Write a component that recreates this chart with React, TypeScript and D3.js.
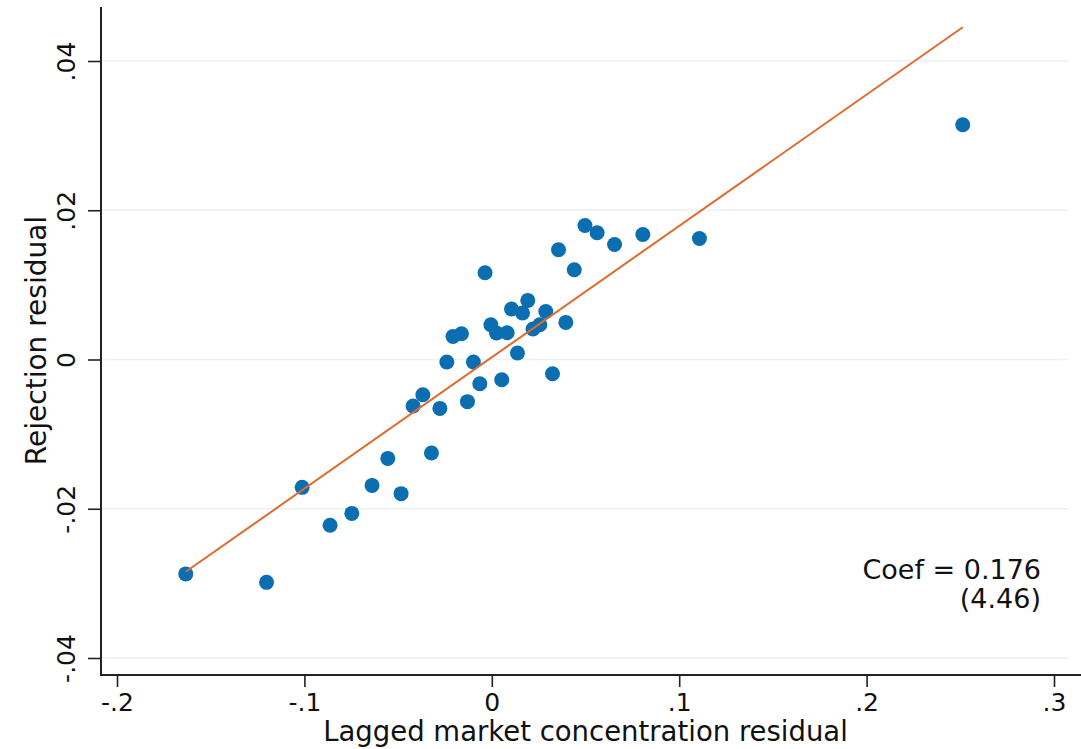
import React, { useEffect, useRef } from 'react';
import * as d3 from 'd3';

// residuals
const xResid = [
  -0.1633, -0.1202, -0.1012, -0.0863, -0.0747, -0.0639, -0.0555, -0.0484, -0.042, -0.0368,
  -0.0322, -0.0277, -0.024, -0.0207, -0.0162, -0.013, -0.0098, -0.0064, -0.0036, -0.0005,
  0.0025, 0.0053, 0.0082, 0.0105, 0.0137, 0.0164, 0.0192, 0.022, 0.0256, 0.0288,
  0.0324, 0.0356, 0.0395, 0.044, 0.0497, 0.0562, 0.0655, 0.0806, 0.1108, 0.2513,
];
const yResid = [
  -0.02873, -0.02986, -0.01713, -0.02222, -0.02062, -0.01687, -0.01325, -0.01798, -0.00623, -0.00472,
  -0.01253, -0.00655, -0.00033, 0.00309, 0.00346, -0.00565, -0.00033, -0.00324, 0.01163, 0.00466,
  0.00355, -0.00271, 0.00359, 0.00676, 0.00087, 0.00623, 0.00792, 0.00409, 0.00466, 0.00644,
  -0.0019, 0.01471, 0.00497, 0.01203, 0.01795, 0.01699, 0.01541, 0.01676, 0.01622, 0.03145,
];

const xTicks = [-0.2, -0.1, 0, 0.1, 0.2, 0.3];
const yTicks = [-0.04, -0.02, 0, 0.02, 0.04];

const coef = 0.176;
const intercept = 0.0003;
const tStat = '(4.46)';

const W = 1081;
const H = 749;

// stata-ish labels: ".04", "-.2", "0"
const stataFmt = (v: number) => {
  if (Math.abs(v) < 1e-9) return '0';
  return String(+v.toFixed(3)).replace(/^(-?)0\./, '$1.');
};

const App: React.FC = () => {
  const svgRef = useRef<SVGSVGElement | null>(null);

  useEffect(() => {
    if (!svgRef.current) return;
    const svg = d3.select(svgRef.current);
    svg.selectAll('*').remove();

    const left = 101, right = 1068, top = 7, bottom = 675;
    const x = d3.scaleLinear().domain([-0.2, 0.3]).range([117, 1054]);
    const y = d3.scaleLinear().domain([-0.04, 0.04]).range([658, 61]);
    const font = '"DejaVu Sans", sans-serif';

    svg.append('rect').attr('width', W).attr('height', H).attr('fill', '#fff');

    // gridlines
    svg.append('g')
      .selectAll('line')
      .data(yTicks)
      .join('line')
      .attr('x1', left)
      .attr('x2', right)
      .attr('y1', d => y(d))
      .attr('y2', d => y(d))
      .attr('stroke', '#eaf2f2')
      .attr('stroke-width', 1.5);

    // axes
    const yAxis = d3.axisLeft(y).tickValues(yTicks).tickSize(13).tickFormat(d => stataFmt(+d));
    const gy = svg.append('g').attr('transform', `translate(${left},0)`).call(yAxis);
    gy.select('.domain').remove();
    gy.selectAll('.tick line').attr('stroke', '#222').attr('stroke-width', 1.6);
    gy.selectAll('.tick text')
      .attr('font-family', font)
      .attr('font-size', 25)
      .attr('fill', '#111')
      .attr('x', 0)
      .attr('dy', null)
      .attr('text-anchor', 'middle')
      .attr('transform', 'translate(-26,0) rotate(-90)');

    const xAxis = d3.axisBottom(x).tickValues(xTicks).tickSize(12).tickFormat(d => stataFmt(+d));
    const gx = svg.append('g').attr('transform', `translate(0,${bottom})`).call(xAxis);
    gx.select('.domain').remove();
    gx.selectAll('.tick line').attr('stroke', '#222').attr('stroke-width', 1.6);
    gx.selectAll('.tick text')
      .attr('font-family', font)
      .attr('font-size', 25)
      .attr('fill', '#111')
      .attr('y', 36)
      .attr('dy', null);

    svg.append('line')
      .attr('x1', left).attr('x2', left).attr('y1', top).attr('y2', bottom + 1)
      .attr('stroke', '#222').attr('stroke-width', 2);
    svg.append('line')
      .attr('x1', left - 1).attr('x2', W).attr('y1', bottom).attr('y2', bottom)
      .attr('stroke', '#222').attr('stroke-width', 2);

    // titles
    svg.append('text')
      .attr('x', (left + right) / 2 + 1)
      .attr('y', 741)
      .attr('text-anchor', 'middle')
      .attr('font-family', font)
      .attr('font-size', 27.5)
      .attr('fill', '#111')
      .text('Lagged market concentration residual');

    svg.append('text')
      .attr('transform', `translate(46,${y(0) - 19}) rotate(-90)`)
      .attr('text-anchor', 'middle')
      .attr('font-family', font)
      .attr('font-size', 28)
      .attr('fill', '#111')
      .text('Rejection residual');

    // points
    const pts = xResid.map((v, i) => [v, yResid[i]] as [number, number]);
    svg.append('g')
      .selectAll('circle')
      .data(pts)
      .join('circle')
      .attr('cx', d => x(d[0]))
      .attr('cy', d => y(d[1]))
      .attr('r', 7.5)
      .attr('fill', '#0a6eb0');

    // fitted line over the range of x
    const [xmin, xmax] = d3.extent(xResid) as [number, number];
    const fit = d3.line<number>().x(d => x(d)).y(d => y(intercept + coef * d));
    svg.append('path')
      .attr('d', fit([xmin, xmax]))
      .attr('fill', 'none')
      .attr('stroke', '#dc6c30')
      .attr('stroke-width', 2);

    // coefficient note
    const note = svg.append('text')
      .attr('font-family', font)
      .attr('font-size', 27)
      .attr('fill', '#111')
      .attr('text-anchor', 'end');
    note.append('tspan').attr('x', 1041).attr('y', 579).text(`Coef = ${coef.toFixed(3)}`);
    note.append('tspan').attr('x', 1041).attr('y', 608).text(tStat);
  }, []);

  return (
    <svg
      ref={svgRef}
      width={W}
      height={H}
      style={{ position: 'absolute', left: 0, top: 0, display: 'block' }}
    />
  );
};

export default App;
